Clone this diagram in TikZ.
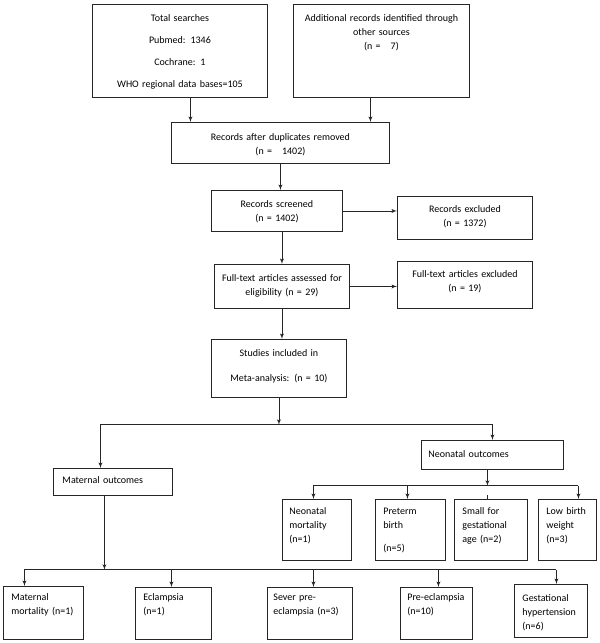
\documentclass[tikz,border=0pt]{standalone}
\usepackage{fontspec}
\setmainfont{Carlito}
\usetikzlibrary{arrows}

\begin{document}
\begin{tikzpicture}[x=1pt, y=-1pt, ->, >=latex', line width=0.9pt, color=black!85,
    box/.style={draw, rectangle, anchor=north west, inner ysep=0pt, text=black, font=\fontsize{10}{14}\selectfont}]
\useasboundingbox (0,0) rectangle (600,643);

% identification
\node[box, align=center, inner xsep=4pt, text width=167pt, text height=17pt, text depth=76pt] (search) at (92,4)
    {Total searches\\[8pt] Pubmed: 1346\\[8pt] Cochrane: 1\\[8pt] WHO regional data bases=105};
\node[box, align=center, inner xsep=4pt, text width=168pt, text height=17pt, text depth=76pt] (other) at (293,4)
    {Additional records identified through\\ other sources\\ (n =\ \ \ 7)};
\node[box, align=center, inner xsep=4pt, text width=210pt, text height=18pt, text depth=23pt] (dupl) at (171,122)
    {Records after duplicates removed\\ (n =\ \ \ 1402)};

% screening
\node[box, align=center, inner xsep=4pt, text width=123pt, text height=17pt, text depth=24pt] (screen) at (211,190)
    {Records screened\\ (n = 1402)};
\node[box, align=center, inner xsep=4pt, text width=127pt, text height=16pt, text depth=27pt] (excl) at (397,196)
    {Records excluded\\ (n = 1372)};
\node[box, align=center, inner xsep=4pt, text width=127pt, text height=17pt, text depth=27pt] (full) at (214,264)
    {Full-text articles assessed for\\ eligibility (n = 29)};
\node[box, align=center, inner xsep=4pt, text width=127pt, text height=16pt, text depth=31pt] (ftexcl) at (397,261)
    {Full-text articles excluded\\ (n = 19)};
\node[box, align=center, inner xsep=4pt, text width=127pt, text height=17pt, text depth=41pt] (incl) at (211,339)
    {Studies included in\\[11pt] Meta-analysis: (n = 10)};

% outcomes
\node[box, align=left, inner xsep=9pt, text width=101pt, text height=15pt, text depth=12pt] (mat) at (53,468)
    {Maternal outcomes};
\node[box, align=left, inner xsep=7pt, text width=128pt, text height=17pt, text depth=12pt] (neo) at (421,440)
    {Neonatal outcomes};

\node[box, align=left, inner xsep=7pt, text width=55pt, text height=15pt, text depth=46pt] (nm) at (282,499)
    {Neonatal\\ mortality\\ (n=1)};
\node[box, align=left, inner xsep=8pt, text width=54pt, text height=15pt, text depth=46pt] (pb) at (375,499)
    {Preterm\\ birth\\[9pt] (n=5)};
\node[box, align=left, inner xsep=8pt, text width=57pt, text height=15pt, text depth=46pt] (sga) at (454,499)
    {Small for\\ gestational\\ age (n=2)};
\node[box, align=left, inner xsep=8pt, text width=42pt, text height=15pt, text depth=46pt] (lbw) at (538,499)
    {Low birth\\ weight\\ (n=3)};

\node[box, align=left, inner xsep=8pt, text width=64pt, text height=14pt, text depth=39pt] (mm) at (3,586)
    {Maternal\\ mortality (n=1)};
\node[box, align=left, inner xsep=8pt, text width=60pt, text height=13pt, text depth=39pt] (ec) at (135,587)
    {Eclampsia\\ (n=1)};
\node[box, align=left, inner xsep=6pt, text width=73pt, text height=13pt, text depth=39pt] (sp) at (267,587)
    {Sever pre-\\ eclampsia (n=3)};
\node[box, align=left, inner xsep=7pt, text width=58pt, text height=13pt, text depth=39pt] (pe) at (400,587)
    {Pre-eclampsia\\ (n=10)};
\node[box, align=left, inner xsep=8pt, text width=57pt, text height=17pt, text depth=36pt] (gh) at (514,584)
    {Gestational\\ hypertension\\ (n=6)};

% flow
\draw ([xshift=10.5pt]search.south) -- ([xshift=10.5pt]search.south |- dupl.north);
\draw ([xshift=-11pt]other.south) -- ([xshift=-11pt]other.south |- dupl.north);
\draw (dupl.south) -- (dupl.south |- screen.north);
\draw (screen.east) -- (screen.east -| excl.west);
\draw (full.north |- screen.south) -- (full.north);
\draw (full.east) -- (full.east -| ftexcl.west);
\draw (full.south) -- (full.south |- incl.north);

\coordinate (fork) at ([yshift=-27pt]incl.south);
\draw (incl.south) -- (fork);
\draw (fork) -| ([xshift=-12.5pt]mat.north);
\draw (fork) -| (neo.north);

% maternal branch
\coordinate (mfork) at ([xshift=-8.5pt,yshift=-74pt]mat.south);
\draw ([xshift=-8.5pt]mat.south) -- (mfork);
\draw[-] ([xshift=-19pt]mm.north |- mfork) -- ([xshift=5.5pt]gh.north |- mfork);
\path ([xshift=-19pt]mm.north |- mfork) edge ([xshift=-19pt]mm.north)
      ([xshift=-2pt]ec.north |- mfork) edge ([xshift=-2pt]ec.north)
      ([xshift=3.5pt]sp.north |- mfork) edge ([xshift=3.5pt]sp.north)
      ([xshift=2pt]pe.north |- mfork) edge ([xshift=2pt]pe.north)
      ([xshift=5.5pt]gh.north |- mfork) edge ([xshift=5.5pt]gh.north);

% neonatal branch
\coordinate (nfork) at ([xshift=-5pt,yshift=-16pt]neo.south);
\draw ([xshift=-5pt]neo.south) -- (nfork);
\draw[-] ([xshift=-3.5pt]nm.north |- nfork) -- ([xshift=11pt]lbw.north |- nfork);
\path ([xshift=-3.5pt]nm.north |- nfork) edge ([xshift=-3.5pt]nm.north)
      ([xshift=-3pt]pb.north |- nfork) edge ([xshift=-3pt]pb.north)
      ([xshift=11pt]lbw.north |- nfork) edge ([xshift=11pt]lbw.north);
\draw[-] ([xshift=-3.5pt]sga.north) -- ++(0,-4);
\end{tikzpicture}
\end{document}
